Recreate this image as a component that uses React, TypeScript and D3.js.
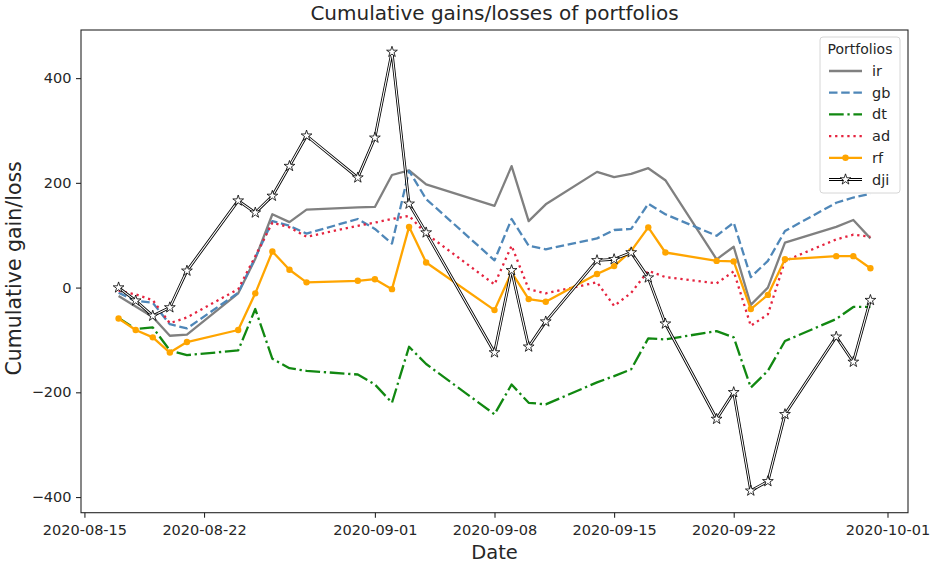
import * as d3 from "d3";
import { useEffect, useRef } from "react";

// trading days shown in the chart
const dates = [
  "2020-08-17", "2020-08-18", "2020-08-19", "2020-08-20", "2020-08-21",
  "2020-08-24", "2020-08-25", "2020-08-26", "2020-08-27", "2020-08-28",
  "2020-08-31", "2020-09-01", "2020-09-02", "2020-09-03", "2020-09-04",
  "2020-09-08", "2020-09-09", "2020-09-10", "2020-09-11",
  "2020-09-14", "2020-09-15", "2020-09-16", "2020-09-17", "2020-09-18",
  "2020-09-21", "2020-09-22", "2020-09-23", "2020-09-24", "2020-09-25",
  "2020-09-28", "2020-09-29", "2020-09-30",
];

const ir = [
  -16, -36, -56, -92, -90, -11, 55, 140, 125, 149, 153, 154, 215, 224, 197,
  156, 232, 127, 159, 221, 211, 217, 228, 205, 54, 78, -33, 0, 86, 116, 129, 94,
];
const gb = [
  -10, -25, -29, -70, -78, -10, 57, 127, 118, 103, 131, 112, 84, 223, 169,
  52, 131, 80, 73, 94, 110, 112, 160, 140, 99, 124, 20, 51, 108, 162, 172, 179,
];
const dt = [
  -58, -79, -76, -120, -129, -120, -41, -136, -154, -159, -166, -185, -220, -113, -146,
  -242, -185, -220, -223, -181, -169, -156, -97, -99, -83, -95, -191, -159, -102, -60, -37, -37,
];
const ad = [
  -6, -13, -24, -68, -57, -3, 60, 124, 115, 97, 118, 124, 131, 137, 103,
  6, 80, -3, -11, 10, -35, -10, 32, 20, 8, 31, -73, -51, 51, 92, 101, 97,
];
const rf = [
  -59, -81, -95, -124, -104, -81, -11, 69, 34, 10, 13, 16, -3, 116, 48,
  -43, 29, -22, -27, 26, 41, 70, 115, 67, 51, 50, -41, -14, 54, 60, 60, 37,
];
const dji = [
  0, -25, -54, -38, 32, 166, 143, 175, 232, 290, 210, 286, 450, 160, 105,
  -124, 33, -113, -65, 52, 54, 67, 19, -69, -251, -200, -388, -370, -242, -94, -142, -24,
];

const xTicks = [
  "2020-08-15", "2020-08-22", "2020-09-01", "2020-09-08",
  "2020-09-15", "2020-09-22", "2020-10-01",
];
const yTicks = [-400, -200, 0, 200, 400];

const width = 936;
const height = 566;
const margin = { top: 30, right: 28, bottom: 53.3, left: 81 };
const font = "DejaVu Sans, Verdana, sans-serif";
const ink = "#262626";
const starSize = 36;

export default function App() {
  const ref = useRef<SVGSVGElement>(null);

  useEffect(() => {
    if (!ref.current) return;
    const svg = d3.select(ref.current);
    svg.selectAll("*").remove();

    const parse = d3.timeParse("%Y-%m-%d");
    const xs = dates.map((d) => parse(d)!);

    const series = [
      { name: "ir", values: ir, color: "#808080", dash: "", w: 2.3 },
      { name: "gb", values: gb, color: "#4f87b8", dash: "8.5,3.7", w: 2.3 },
      { name: "dt", values: dt, color: "#118811", dash: "14.7,3.7,2.3,3.7", w: 2.3 },
      { name: "ad", values: ad, color: "#e5243f", dash: "2.3,3.8", w: 2.3 },
      { name: "rf", values: rf, color: "#ffa500", dash: "", w: 2.3, dot: true },
      { name: "dji", values: dji, color: "black", dash: "", w: 2.8, star: true },
    ];

    const t0 = +xs[0];
    const t1 = +xs[xs.length - 1];
    const padT = (t1 - t0) * 0.05;
    const x = d3
      .scaleTime()
      .domain([new Date(t0 - padT), new Date(t1 + padT)])
      .range([margin.left, width - margin.right]);

    const all = series.flatMap((s) => s.values);
    const lo = d3.min(all)!;
    const hi = d3.max(all)!;
    const padV = (hi - lo) * 0.05;
    const y = d3
      .scaleLinear()
      .domain([lo - padV, hi + padV])
      .range([height - margin.bottom, margin.top]);

    const line = d3
      .line<number>()
      .x((_, i) => x(xs[i]))
      .y((v) => y(v));

    const plot = svg.append("g");

    series.forEach((s) => {
      plot
        .append("path")
        .attr("d", line(s.values))
        .attr("fill", "none")
        .attr("stroke", s.color)
        .attr("stroke-width", s.w)
        .attr("stroke-dasharray", s.dash || null)
        .attr("stroke-linejoin", "round");
      if (s.star) {
        plot
          .append("path")
          .attr("d", line(s.values))
          .attr("fill", "none")
          .attr("stroke", "white")
          .attr("stroke-width", 1.1)
          .attr("stroke-linejoin", "round");
        plot
          .append("g")
          .selectAll("path")
          .data(s.values)
          .join("path")
          .attr("transform", (v, i) => `translate(${x(xs[i])},${y(v)})`)
          .attr("d", d3.symbol(d3.symbolStar, starSize)())
          .attr("fill", "white")
          .attr("stroke", "black")
          .attr("stroke-width", 0.8);
      }
      if (s.dot) {
        plot
          .append("g")
          .selectAll("circle")
          .data(s.values)
          .join("circle")
          .attr("cx", (_, i) => x(xs[i]))
          .attr("cy", (v) => y(v))
          .attr("r", 3.2)
          .attr("fill", s.color);
      }
    });

    // frame
    svg
      .append("rect")
      .attr("x", margin.left)
      .attr("y", margin.top)
      .attr("width", width - margin.left - margin.right)
      .attr("height", height - margin.top - margin.bottom)
      .attr("fill", "none")
      .attr("stroke", ink)
      .attr("stroke-width", 1.1);

    const gx = svg
      .append("g")
      .attr("transform", `translate(0,${height - margin.bottom})`)
      .call(
        d3
          .axisBottom(x)
          .tickValues(xTicks.map((d) => parse(d)!))
          .tickFormat((d) => d3.timeFormat("%Y-%m-%d")(d as Date))
          .tickSize(5)
          .tickPadding(7)
      );
    gx.select(".domain").remove();

    const gy = svg
      .append("g")
      .attr("transform", `translate(${margin.left},0)`)
      .call(d3.axisLeft(y).tickValues(yTicks).tickSize(5).tickPadding(4.5));
    gy.select(".domain").remove();

    [gx, gy].forEach((g) => {
      g.selectAll("line").attr("stroke", ink).attr("stroke-width", 1.1);
      g.selectAll("text")
        .attr("fill", ink)
        .style("font-family", font)
        .style("font-size", "14.5px");
    });

    const cx = (margin.left + width - margin.right) / 2;
    svg
      .append("text")
      .attr("x", cx)
      .attr("y", 20)
      .attr("text-anchor", "middle")
      .attr("fill", ink)
      .style("font-family", font)
      .style("font-size", "20px")
      .text("Cumulative gains/losses of portfolios");

    svg
      .append("text")
      .attr("x", cx)
      .attr("y", 559)
      .attr("text-anchor", "middle")
      .attr("fill", ink)
      .style("font-family", font)
      .style("font-size", "19.5px")
      .text("Date");

    svg
      .append("text")
      .attr("transform", `translate(21,${(margin.top + height - margin.bottom) / 2 - 3}) rotate(-90)`)
      .attr("text-anchor", "middle")
      .attr("fill", ink)
      .style("font-family", font)
      .style("font-size", "20.5px")
      .text("Cumulative gain/loss");

    // legend
    const lg = svg.append("g");
    lg.append("rect")
      .attr("x", 820)
      .attr("y", 37)
      .attr("width", 80)
      .attr("height", 156)
      .attr("rx", 3)
      .attr("fill", "white")
      .attr("fill-opacity", 0.8)
      .attr("stroke", "#d6d6d6");
    lg.append("text")
      .attr("x", 860)
      .attr("y", 54)
      .attr("text-anchor", "middle")
      .attr("fill", ink)
      .style("font-family", font)
      .style("font-size", "14px")
      .text("Portfolios");

    series.forEach((s, i) => {
      const ly = 71 + i * 21.7;
      lg.append("line")
        .attr("x1", 829)
        .attr("x2", 862)
        .attr("y1", ly)
        .attr("y2", ly)
        .attr("stroke", s.color)
        .attr("stroke-width", s.w)
        .attr("stroke-dasharray", s.dash || null);
      if (s.star) {
        lg.append("line")
          .attr("x1", 829)
          .attr("x2", 862)
          .attr("y1", ly)
          .attr("y2", ly)
          .attr("stroke", "white")
          .attr("stroke-width", 1.1);
        lg.append("path")
          .attr("transform", `translate(845.5,${ly})`)
          .attr("d", d3.symbol(d3.symbolStar, starSize)())
          .attr("fill", "white")
          .attr("stroke", "black")
          .attr("stroke-width", 0.8);
      }
      if (s.dot) {
        lg.append("circle")
          .attr("cx", 845.5)
          .attr("cy", ly)
          .attr("r", 3.2)
          .attr("fill", s.color);
      }
      lg.append("text")
        .attr("x", 872)
        .attr("y", ly + 5)
        .attr("fill", ink)
        .style("font-family", font)
        .style("font-size", "14.5px")
        .text(s.name);
    });
  }, []);

  return (
    <svg
      ref={ref}
      width={width}
      height={height}
      style={{ position: "absolute", left: 0, top: 0, background: "white" }}
    />
  );
}
